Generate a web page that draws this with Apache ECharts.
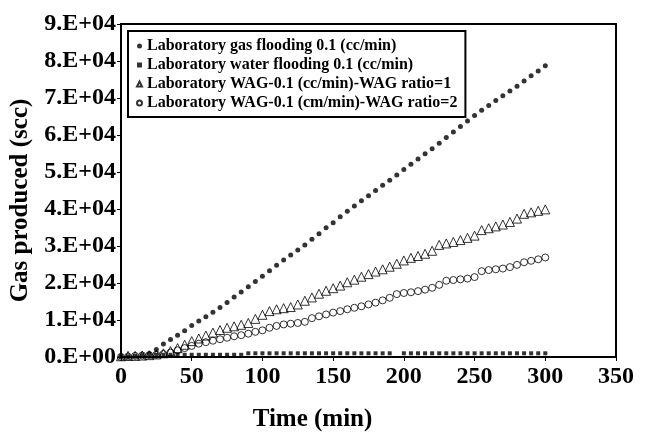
<!DOCTYPE html>
<html>
<head>
<meta charset="utf-8">
<script src="https://cdn.jsdelivr.net/npm/echarts@6/dist/echarts.min.js"></script>
<style>html,body{margin:0;padding:0;background:#fff}#c{width:645px;height:432px}</style>
</head>
<body>
<div id="c"></div>
<script>
const times = [0,5,10,15,20,25,30,35,40,45,50,55,60,65,70,75,80,85,90,95,100,105,110,115,120,125,130,135,140,145,150,155,160,165,170,175,180,185,190,195,200,205,210,215,220,225,230,235,240,245,250,255,260,265,270,275,280,285,290,295,300];
const gasFlooding = [0,100,200,400,900,2000,3500,4700,5900,7100,8500,9700,10900,12100,13400,14700,16200,17600,19000,20400,21800,23300,24800,26200,27600,28900,30300,31800,33300,34900,36300,37900,39400,40800,42200,43600,45000,46400,47800,49200,50700,52100,53500,54900,56300,57800,59300,60800,62300,63800,65300,66700,68000,69300,70600,71900,73200,74600,76000,77300,78700];
const waterFlooding = [null,null,null,null,null,600,600,600,600,600,600,600,600,600,600,600,600,600,1000,1000,1000,1000,1000,1000,1000,1000,1000,1000,1000,1000,1000,1000,1000,1000,1000,1000,1000,1000,1000,null,1000,1000,1000,1000,1000,1000,1000,1000,1000,1000,1000,1000,1000,1000,1000,1000,1000,1000,1000,1000,1000];
const wagRatio1 = [200,300,300,400,500,700,1000,1600,2400,3300,4300,5000,5800,6600,7300,7900,8300,8700,9200,10300,11400,12400,12900,13200,13500,14200,15200,16100,17100,17900,18600,19300,20200,20900,21700,22400,23100,23700,24400,25200,26100,26800,27300,27900,28700,30300,30700,31100,31600,32200,32800,34300,34800,35300,35800,36500,37400,38700,39100,39500,39900];
const wagRatio2 = [0,100,300,400,500,600,800,1200,1800,2400,3000,3600,4000,4400,4800,5200,5600,5900,6300,6800,7200,7900,8400,8800,9000,9200,9500,10500,11000,11500,12000,12400,12900,13300,13700,14200,14700,15300,16000,17000,17300,17500,17800,18200,18700,19500,20600,20800,21000,21200,21600,23200,23500,23700,23900,24300,24900,25600,26000,26400,26900];
const seriesNames = ['Laboratory gas flooding 0.1 (cc/min)','Laboratory water flooding 0.1 (cc/min)','Laboratory WAG-0.1 (cc/min)-WAG ratio=1','Laboratory WAG-0.1 (cm/min)-WAG ratio=2'];
const xTicks = [0,50,100,150,200,250,300,350];
const yTicks = [0,10000,20000,30000,40000,50000,60000,70000,80000,90000];

function pairs(vals){ return times.map((t,i)=>[t, vals[i]]).filter(p=>p[1]!==null); }
const font = '"Liberation Serif","Times New Roman",serif';

const chart = echarts.init(document.getElementById('c'), null, {renderer:'canvas'});
chart.setOption({
  animation:false,
  backgroundColor:'#fff',
  grid:{left:121,right:29,top:24,bottom:75,outerBoundsMode:'none',containLabel:false,show:true,borderColor:'#000',borderWidth:2,backgroundColor:'transparent'},
  legend:{
    orient:'vertical', left:128, top:31, padding:[7,8,6,8], itemGap:3,
    borderColor:'#000', borderWidth:2, backgroundColor:'#fff',
    itemWidth:5, itemHeight:5,
    textStyle:{fontFamily:font,fontWeight:'bold',fontSize:16,color:'#000'},
    data:seriesNames
  },
  xAxis:{
    type:'value', min:0, max:350, interval:50,
    name:'Time (min)', nameLocation:'middle', nameGap:50,
    nameTextStyle:{fontFamily:font,fontWeight:'bold',fontSize:25,color:'#000',padding:[0,112,0,0]},
    axisLine:{lineStyle:{color:'#000',width:2}},
    axisTick:{show:true,length:4,lineStyle:{color:'#000',width:1}},
    axisLabel:{fontFamily:font,fontWeight:'bold',fontSize:24,color:'#000',margin:8,
      formatter:v=>xTicks.includes(v)?String(v):''},
    splitLine:{show:false}
  },
  yAxis:{
    type:'value', min:0, max:90000, interval:10000,
    name:'Gas produced (scc)', nameLocation:'middle', nameGap:82,
    nameTextStyle:{fontFamily:font,fontWeight:'bold',fontSize:25,color:'#000',padding:[0,20,0,0]},
    axisLine:{lineStyle:{color:'#000',width:2}},
    axisTick:{show:true,length:4,lineStyle:{color:'#000',width:1}},
    axisLabel:{fontFamily:font,fontWeight:'bold',fontSize:24,color:'#000',margin:5,
      formatter:v=>{ if(!yTicks.includes(v)) return ''; return v===0?'0.E+00':(v/10000)+'.E+04'; }},
    splitLine:{show:false}
  },
  series:[
    {name:seriesNames[0],type:'scatter',symbol:'circle',symbolSize:5,data:pairs(gasFlooding),
     itemStyle:{color:'#000'}},
    {name:seriesNames[1],type:'scatter',symbol:'rect',symbolSize:4,data:pairs(waterFlooding),
     itemStyle:{color:'#000'}},
    {name:seriesNames[2],type:'scatter',symbol:'triangle',symbolSize:9,data:pairs(wagRatio1),
     itemStyle:{color:'rgba(255,255,255,0)',borderColor:'#000',borderWidth:1}},
    {name:seriesNames[3],type:'scatter',symbol:'circle',symbolSize:7,data:pairs(wagRatio2),
     itemStyle:{color:'rgba(255,255,255,0)',borderColor:'#000',borderWidth:1}}
  ]
});
</script>
</body>
</html>
